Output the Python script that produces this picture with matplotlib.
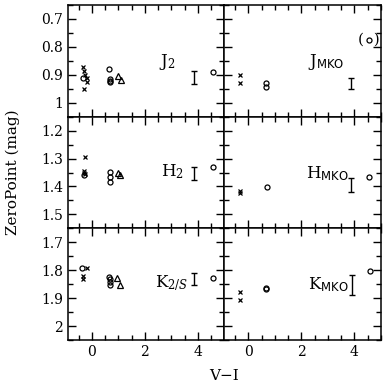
import matplotlib
matplotlib.use("Agg")
import matplotlib.pyplot as plt
from matplotlib.ticker import MultipleLocator, FormatStrFormatter

plt.rcParams['font.family'] = ['DejaVu Serif']
plt.rcParams['mathtext.fontset'] = 'dejavuserif'

# ---------------- data (V-I, ZeroPoint) ----------------
# J2 panel
j2_cross_x = [-0.32, -0.29, -0.25, -0.19, -0.17, -0.29]
j2_cross_y = [0.871, 0.885, 0.901, 0.913, 0.927, 0.951]
j2_circ_x = [-0.34, 0.63, 0.69, 0.69, 0.70, 4.55]
j2_circ_y = [0.911, 0.879, 0.915, 0.921, 0.926, 0.891]
j2_tri_x = [0.97, 1.09]
j2_tri_y = [0.903, 0.919]
# J MKO panel
jm_cross_x = [-0.30, -0.30]
jm_cross_y = [0.901, 0.931]
jm_circ_x = [0.65, 0.65, 4.54]
jm_circ_y = [0.931, 0.945, 0.775]
jm_tri_x, jm_tri_y = [], []
# H2 panel
h2_cross_x = [-0.25, -0.28, -0.27, -0.30]
h2_cross_y = [1.294, 1.346, 1.356, 1.351]
h2_circ_x = [-0.30, 0.69, 0.69, 0.69, 4.55]
h2_circ_y = [1.360, 1.347, 1.365, 1.383, 1.329]
h2_tri_x = [0.97, 1.05]
h2_tri_y = [1.350, 1.358]
# H MKO panel
hm_cross_x = [-0.32, -0.32]
hm_cross_y = [1.415, 1.423]
hm_circ_x = [0.70, 4.56]
hm_circ_y = [1.401, 1.365]
hm_tri_x, hm_tri_y = [], []
# K2/S panel
k2_cross_x = [-0.19, -0.32, -0.32]
k2_cross_y = [1.793, 1.822, 1.830]
k2_circ_x = [-0.38, 0.66, 0.69, 0.69, 0.69, 4.55]
k2_circ_y = [1.793, 1.823, 1.833, 1.843, 1.853, 1.829]
k2_tri_x = [0.94, 1.06]
k2_tri_y = [1.829, 1.853]
# K MKO panel
km_cross_x = [-0.30, -0.30]
km_cross_y = [1.877, 1.907]
km_circ_x = [0.65, 0.65, 4.57]
km_circ_y = [1.862, 1.868, 1.802]
km_tri_x, km_tri_y = [], []

# typical error bars (x, centre, half-length)
err_x = [3.86, 3.87, 3.86, 3.87, 3.86, 3.90]
err_c = [0.910, 0.932, 1.353, 1.395, 1.832, 1.853]
err_h = [0.023, 0.020, 0.024, 0.025, 0.021, 0.036]

band_labels = [r'J$_2$', r'J$_{\mathsf{MKO}}$', r'H$_2$', r'H$_{\mathsf{MKO}}$',
               r'K$_{2/S}$', r'K$_{\mathsf{MKO}}$']
label_x = [2.83, 2.95, 3.02, 2.98, 3.0, 3.0]
label_y = [0.853, 0.853, 1.347, 1.353, 1.847, 1.853]

ylims = [(1.05, 0.65), (1.55, 1.15), (2.05, 1.65)]
yticks = [[0.7, 0.8, 0.9, 1.0], [1.2, 1.3, 1.4, 1.5], [1.7, 1.8, 1.9, 2.0]]
xlim = (-0.9, 5.0)

panels = [
    (j2_cross_x, j2_cross_y, j2_circ_x, j2_circ_y, j2_tri_x, j2_tri_y),
    (jm_cross_x, jm_cross_y, jm_circ_x, jm_circ_y, jm_tri_x, jm_tri_y),
    (h2_cross_x, h2_cross_y, h2_circ_x, h2_circ_y, h2_tri_x, h2_tri_y),
    (hm_cross_x, hm_cross_y, hm_circ_x, hm_circ_y, hm_tri_x, hm_tri_y),
    (k2_cross_x, k2_cross_y, k2_circ_x, k2_circ_y, k2_tri_x, k2_tri_y),
    (km_cross_x, km_cross_y, km_circ_x, km_circ_y, km_tri_x, km_tri_y),
]

fig = plt.figure(figsize=(3.86, 3.86), dpi=100)
L, R, T, B = 68 / 386, 381 / 386, 1 - 5 / 386, 1 - 340 / 386
W = (R - L) / 2
H = (T - B) / 3

for i, (cx, cy, ox, oy, tx, ty) in enumerate(panels):
    row, col = divmod(i, 2)
    ax = fig.add_axes([L + col * W, T - (row + 1) * H, W, H])
    ax.plot(cx, cy, 'x', color='k', ms=3.0, mew=0.9, ls='none')
    ax.plot(ox, oy, 'o', mfc='none', mec='k', ms=3.6, mew=0.9, ls='none')
    ax.plot(tx, ty, '^', mfc='none', mec='k', ms=3.8, mew=0.9, ls='none')
    ax.errorbar([err_x[i]], [err_c[i]], yerr=[err_h[i]], fmt='none',
                ecolor='k', elinewidth=1.0, capsize=2.3, capthick=1.0)
    ax.text(label_x[i], label_y[i], band_labels[i], fontsize=12,
            ha='center', va='center')
    if i == 1:
        ax.text(jm_circ_x[2], jm_circ_y[2], '(  )', fontsize=11,
                ha='center', va='center')
    ax.set_xlim(*xlim)
    ax.set_ylim(*ylims[row])
    ax.set_yticks(yticks[row])
    ax.yaxis.set_minor_locator(MultipleLocator(0.05))
    ax.xaxis.set_major_locator(MultipleLocator(2))
    ax.xaxis.set_minor_locator(MultipleLocator(0.5))
    ax.yaxis.set_major_formatter(FormatStrFormatter('%g'))
    ax.tick_params(which='both', direction='in', top=True, right=True,
                   labelsize=10, width=1.0)
    ax.tick_params(which='major', length=6)
    ax.tick_params(which='minor', length=3.5)
    for s in ax.spines.values():
        s.set_linewidth(1.1)
    if col == 1:
        ax.tick_params(labelleft=False)
    if row != 2:
        ax.tick_params(labelbottom=False)

fig.text(224 / 386, 1 - 376 / 386, 'V\u2212I', ha='center', va='center', fontsize=11)
fig.text(13 / 386, 1 - 172 / 386, 'ZeroPoint (mag)', ha='center', va='center',
         rotation=90, fontsize=11)

fig.savefig('out.png', dpi=100)
